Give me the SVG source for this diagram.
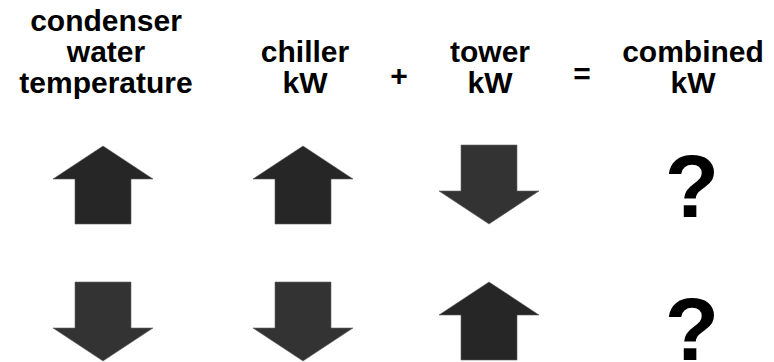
<svg xmlns="http://www.w3.org/2000/svg" xmlns:xlink="http://www.w3.org/1999/xlink" width="774" height="362" viewBox="0 0 774 362">
<style>
.lbl{font-family:"Liberation Sans",Arial,sans-serif;font-weight:bold;font-size:30px;fill:#000;text-anchor:middle}
.op{font-family:"Liberation Sans",Arial,sans-serif;font-weight:bold;font-size:30px;fill:#000;text-anchor:middle}
.q{font-family:"Liberation Sans",Arial,sans-serif;font-weight:bold;font-size:89px;fill:#000;text-anchor:middle}
.up{fill:#262626;stroke:#5a5a5a;stroke-width:0.6}
.down{fill:#333333;stroke:#666;stroke-width:0.6}
</style>
<defs>
<path id="upA" d="M0,0 L50,33 L28,33 L28,78 L-28,78 L-28,33 L-50,33 Z"/>
<path id="downA" d="M0,0 L50,-33 L28,-33 L28,-79 L-28,-79 L-28,-33 L-50,-33 Z"/>
</defs>
<rect width="774" height="362" fill="#fff"/>
<g id="header-condenser">
<text class="lbl" x="106" y="31">condenser</text>
<text class="lbl" x="106" y="62">water</text>
<text class="lbl" x="106" y="93">temperature</text>
</g>
<g id="header-chiller">
<text class="lbl" x="305" y="62">chiller</text>
<text class="lbl" x="305" y="93">kW</text>
</g>
<g id="op-plus"><text class="op" x="399" y="86">+</text></g>
<g id="header-tower">
<text class="lbl" x="490" y="62">tower</text>
<text class="lbl" x="490" y="93">kW</text>
</g>
<g id="op-equals"><text class="op" x="582" y="84">=</text></g>
<g id="header-combined">
<text class="lbl" x="693" y="62">combined</text>
<text class="lbl" x="693" y="93">kW</text>
</g>
<g id="r1-condenser"><use xlink:href="#upA" class="up" x="103" y="146"/></g>
<g id="r1-chiller"><use xlink:href="#upA" class="up" x="303" y="146"/></g>
<g id="r1-tower"><use xlink:href="#downA" class="down" x="489" y="224"/></g>
<g id="r1-combined"><text class="q" x="692" y="217">?</text></g>
<g id="r2-condenser"><use xlink:href="#downA" class="down" x="103" y="361"/></g>
<g id="r2-chiller"><use xlink:href="#downA" class="down" x="303" y="361"/></g>
<g id="r2-tower"><use xlink:href="#upA" class="up" x="489" y="282"/></g>
<g id="r2-combined"><text class="q" x="692" y="360">?</text></g>
<g id="connectors"/>
</svg>
